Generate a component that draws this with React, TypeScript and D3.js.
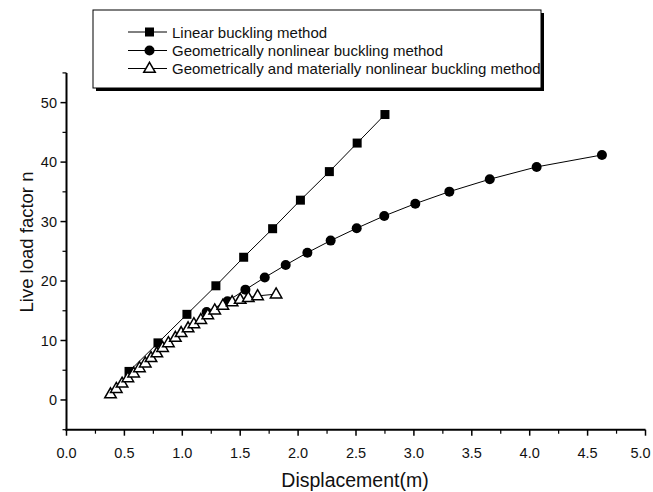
import React from "react";
import * as d3 from "d3";

const linearX = [0.54, 0.79, 1.04, 1.29, 1.53, 1.78, 2.02, 2.27, 2.51, 2.75];
const linearY = [4.8, 9.6, 14.4, 19.2, 24.0, 28.8, 33.6, 38.4, 43.2, 48.0];

const geoX = [1.21, 1.39, 1.545, 1.712, 1.893, 2.08, 2.281, 2.506, 2.744, 3.012, 3.306, 3.655, 4.06, 4.624];
const geoY = [14.8, 16.6, 18.55, 20.6, 22.7, 24.77, 26.8, 28.88, 30.95, 33.01, 35.03, 37.12, 39.19, 41.2];

const matX = [0.38, 0.43, 0.48, 0.53, 0.58, 0.63, 0.68, 0.73, 0.78, 0.83, 0.88, 0.94, 0.99, 1.05, 1.10, 1.16, 1.22, 1.28, 1.35, 1.43, 1.50, 1.57, 1.65, 1.81];
const matY = [1.0, 1.9, 2.8, 3.7, 4.5, 5.4, 6.2, 7.1, 7.9, 8.8, 9.6, 10.5, 11.3, 12.1, 12.8, 13.5, 14.3, 15.1, 15.9, 16.5, 16.9, 17.2, 17.5, 17.8];

const xTicks = [0, 0.5, 1, 1.5, 2, 2.5, 3, 3.5, 4, 4.5, 5];
const yTicks = [0, 10, 20, 30, 40, 50];
const legendLabels = [
  "Linear buckling method",
  "Geometrically nonlinear buckling method",
  "Geometrically and materially nonlinear buckling method",
];

const FONT = "'Liberation Sans', Arial, sans-serif";

export default function App() {
  const x = d3.scaleLinear().domain([0, 5]).range([66.5, 645.5]);
  const y = d3.scaleLinear().domain([-5, 55]).range([429.7, 72.9]);
  const line = d3
    .line<[number, number]>()
    .x((d) => x(d[0]))
    .y((d) => y(d[1]));

  const lin: [number, number][] = linearX.map((v, i) => [v, linearY[i]]);
  const geo: [number, number][] = geoX.map((v, i) => [v, geoY[i]]);
  const mat: [number, number][] = matX.map((v, i) => [v, matY[i]]);

  const xMinor = d3.range(0, 5.001, 0.25).filter((v) => Math.abs(v * 2 - Math.round(v * 2)) > 0.01);
  const yMinor = d3.range(-5, 55.001, 10);

  const tri = (cx: number, cy: number, s = 11.5) => {
    const h = s * 0.866;
    return `M${cx},${cy - h * 0.62}L${cx + s / 2},${cy + h * 0.38}L${cx - s / 2},${cy + h * 0.38}Z`;
  };

  const legendRowsY = [32, 50.5, 68.5];
  const tickFont = 14.5;

  return (
    <svg width={653} height={492} style={{ position: "absolute", left: 0, top: 0, background: "#fff" }}>
      <rect x={0} y={0} width={653} height={492} fill="#fff" />
      {/* axes */}
      <line x1={x(0)} x2={x(0)} y1={y(55)} y2={y(-5) + 1} stroke="#000" strokeWidth={2} />
      <line x1={x(0) - 1} x2={x(5)} y1={y(-5)} y2={y(-5)} stroke="#000" strokeWidth={2} />
      {xTicks.map((t) => (
        <g key={"xt" + t}>
          <line x1={x(t)} x2={x(t)} y1={y(-5)} y2={y(-5) + 6} stroke="#000" strokeWidth={1.5} />
          <text
            x={Math.min(x(t), 653 - 12.5)}
            y={458}
            fontSize={tickFont}
            fontFamily={FONT}
            textAnchor="middle"
            fill="#111"
          >
            {t.toFixed(1)}
          </text>
        </g>
      ))}
      {xMinor.map((t) => (
        <line key={"xm" + t} x1={x(t)} x2={x(t)} y1={y(-5)} y2={y(-5) + 4} stroke="#000" strokeWidth={1.2} />
      ))}
      {yTicks.map((t) => (
        <g key={"yt" + t}>
          <line x1={x(0) - 6} x2={x(0)} y1={y(t)} y2={y(t)} stroke="#000" strokeWidth={1.5} />
          <text x={57} y={y(t) + 5} fontSize={tickFont} fontFamily={FONT} textAnchor="end" fill="#111">
            {t}
          </text>
        </g>
      ))}
      {yMinor.map((t) => (
        <line key={"ym" + t} x1={x(0) - 4} x2={x(0)} y1={y(t)} y2={y(t)} stroke="#000" strokeWidth={1.2} />
      ))}
      <text x={355} y={487} fontSize={19.5} fontFamily={FONT} textAnchor="middle" fill="#111">
        Displacement(m)
      </text>
      <text
        transform={`translate(33,242) rotate(-90)`}
        fontSize={18.5}
        fontFamily={FONT}
        textAnchor="middle"
        fill="#111"
      >
        Live load factor n
      </text>

      {/* series */}
      <path d={line(lin) || ""} fill="none" stroke="#000" strokeWidth={1} />
      <path d={line(geo) || ""} fill="none" stroke="#000" strokeWidth={1} />
      <path d={line(mat) || ""} fill="none" stroke="#000" strokeWidth={1} />
      {geo.map((d, i) => (
        <circle key={"c" + i} cx={x(d[0])} cy={y(d[1])} r={5} fill="#000" />
      ))}
      {lin.map((d, i) => (
        <rect key={"s" + i} x={x(d[0]) - 4.5} y={y(d[1]) - 4.5} width={9} height={9} fill="#000" />
      ))}
      {mat.map((d, i) => (
        <path key={"t" + i} d={tri(x(d[0]), y(d[1]))} fill="#fff" stroke="#000" strokeWidth={1.5} />
      ))}

      {/* legend */}
      <rect x={96} y={13} width={448} height={78} fill="#000" />
      <rect x={93} y={10} width={448} height={78} fill="#fff" stroke="#000" strokeWidth={1} />
      {legendLabels.map((lab, i) => {
        const ly = legendRowsY[i];
        return (
          <g key={"lg" + i}>
            <line x1={128} x2={167} y1={ly} y2={ly} stroke="#000" strokeWidth={1} />
            {i === 0 && <rect x={149.5 - 4.5} y={ly - 4.5} width={9} height={9} fill="#000" />}
            {i === 1 && <circle cx={149.5} cy={ly} r={5} fill="#000" />}
            {i === 2 && <path d={tri(149.5, ly)} fill="#fff" stroke="#000" strokeWidth={1.5} />}
            <text x={172} y={ly + 5.5} fontSize={15} fontFamily={FONT} fill="#111">
              {lab}
            </text>
          </g>
        );
      })}
    </svg>
  );
}
